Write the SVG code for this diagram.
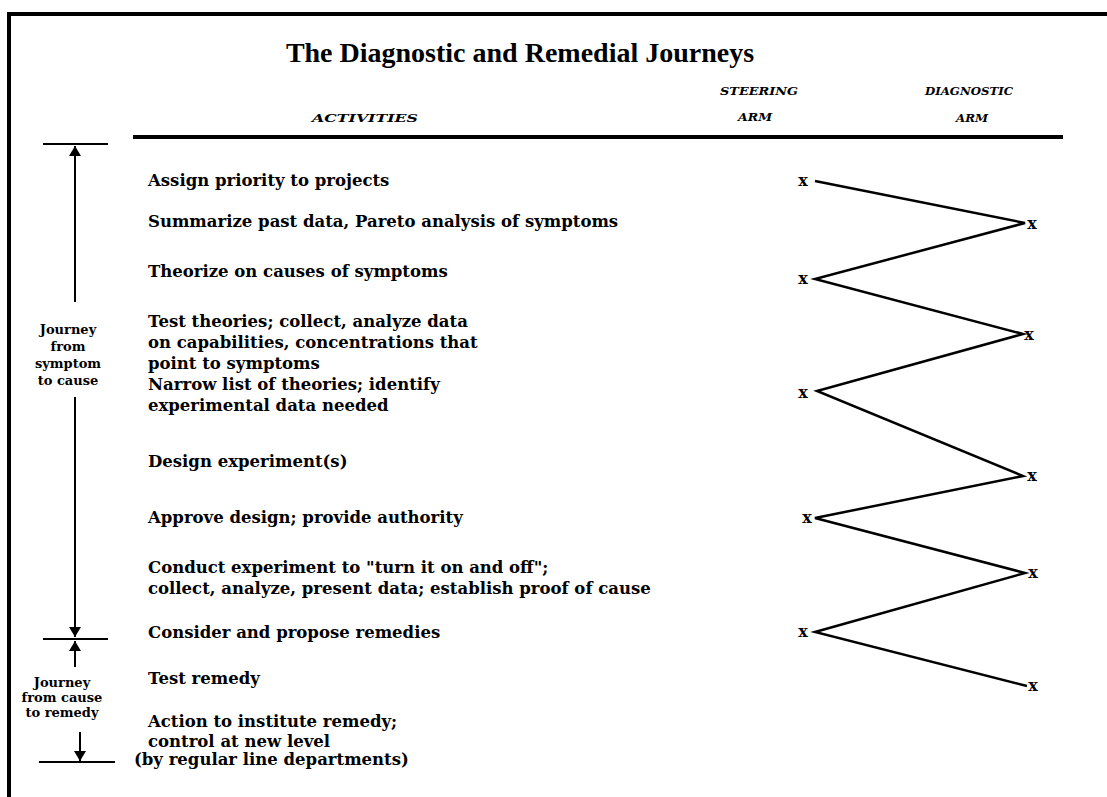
<svg xmlns="http://www.w3.org/2000/svg" width="1107" height="797" viewBox="0 0 1107 797">
<defs>
<style>
.act{font-family:"DejaVu Serif","Liberation Serif",serif;font-weight:bold;font-size:16.5px;fill:#000}
.title{font-family:"Liberation Serif","Times New Roman",serif;font-weight:bold;font-size:28px;fill:#000}
.hdr{font-family:"DejaVu Serif","Liberation Serif",serif;font-weight:bold;font-style:italic;font-size:11px;fill:#000;text-anchor:middle}
.lbl{font-family:"DejaVu Serif","Liberation Serif",serif;font-weight:bold;font-size:13px;fill:#000;text-anchor:middle}
.mk{font-family:"DejaVu Serif","Liberation Serif",serif;font-weight:bold;font-size:16px;fill:#000;text-anchor:middle}
.rule{stroke:#000;fill:none}
</style>
<marker id="ah" viewBox="0 0 10 16" refX="10" refY="8" markerWidth="10" markerHeight="16" markerUnits="userSpaceOnUse" orient="auto">
<path d="M0,2 L10,8 L0,14 Z" fill="#000"/>
</marker>
</defs>
<rect x="0" y="0" width="1107" height="797" fill="#fff"/>
<g id="frame">
<line class="rule" x1="9" y1="14" x2="1107" y2="14" stroke-width="4"/>
<line class="rule" x1="9" y1="12" x2="9" y2="797" stroke-width="4"/>
</g>
<g id="header">
<text class="title" x="520" y="62" text-anchor="middle">The Diagnostic and Remedial Journeys</text>
<text class="hdr" x="365" y="122" textLength="106" lengthAdjust="spacingAndGlyphs">ACTIVITIES</text>
<text class="hdr" x="759" y="95" textLength="78" lengthAdjust="spacingAndGlyphs">STEERING</text>
<text class="hdr" x="755" y="121" textLength="34" lengthAdjust="spacingAndGlyphs">ARM</text>
<text class="hdr" x="969" y="95" textLength="88" lengthAdjust="spacingAndGlyphs">DIAGNOSTIC</text>
<text class="hdr" x="972" y="122" textLength="32" lengthAdjust="spacingAndGlyphs">ARM</text>
<line class="rule" x1="133" y1="137" x2="1063" y2="137" stroke-width="4"/>
</g>
<g id="journey-symptom-cause">
<line class="rule" x1="43" y1="144" x2="108" y2="144" stroke-width="2"/>
<line class="rule" x1="75" y1="302" x2="75" y2="146" stroke-width="2" marker-end="url(#ah)"/>
<text class="lbl" x="68" y="334">Journey</text>
<text class="lbl" x="68" y="351">from</text>
<text class="lbl" x="68" y="368">symptom</text>
<text class="lbl" x="68" y="385">to cause</text>
<line class="rule" x1="75" y1="397" x2="75" y2="637" stroke-width="2" marker-end="url(#ah)"/>
<line class="rule" x1="43" y1="639" x2="108" y2="639" stroke-width="2"/>
</g>
<g id="journey-cause-remedy">
<line class="rule" x1="75" y1="667" x2="75" y2="641" stroke-width="2" marker-end="url(#ah)"/>
<text class="lbl" x="62" y="687">Journey</text>
<text class="lbl" x="62" y="702">from cause</text>
<text class="lbl" x="62" y="717">to remedy</text>
<line class="rule" x1="80" y1="732" x2="80" y2="761" stroke-width="2" marker-end="url(#ah)"/>
<line class="rule" x1="39" y1="762" x2="115" y2="762" stroke-width="2"/>
</g>
<g id="activities">
<text class="act" x="148" y="186">Assign priority to projects</text>
<text class="act" x="148" y="227">Summarize past data, Pareto analysis of symptoms</text>
<text class="act" x="148" y="277">Theorize on causes of symptoms</text>
<text class="act" x="148" y="327">Test theories; collect, analyze data</text>
<text class="act" x="148" y="348">on capabilities, concentrations that</text>
<text class="act" x="148" y="369">point to symptoms</text>
<text class="act" x="148" y="390">Narrow list of theories; identify</text>
<text class="act" x="148" y="411">experimental data needed</text>
<text class="act" x="148" y="467">Design experiment(s)</text>
<text class="act" x="148" y="523">Approve design; provide authority</text>
<text class="act" x="148" y="573">Conduct experiment to "turn it on and off";</text>
<text class="act" x="148" y="594">collect, analyze, present data; establish proof of cause</text>
<text class="act" x="148" y="638">Consider and propose remedies</text>
<text class="act" x="148" y="684">Test remedy</text>
<text class="act" x="148" y="727">Action to institute remedy;</text>
<text class="act" x="148" y="747">control at new level</text>
<text class="act" x="134" y="765">(by regular line departments)</text>
</g>
<g id="connectors">
<polyline class="rule" stroke-width="2.5" stroke-linejoin="miter" points="815,181 1025,223 815,279 1023,334 817,391 1023,476 815,518 1025,573 815,632 1027,686"/>
</g>
<g id="marks">
<text class="mk" x="803" y="186">x</text>
<text class="mk" x="1032" y="229">x</text>
<text class="mk" x="803" y="284">x</text>
<text class="mk" x="1029" y="340">x</text>
<text class="mk" x="803" y="398">x</text>
<text class="mk" x="1032" y="481">x</text>
<text class="mk" x="807" y="523">x</text>
<text class="mk" x="1033" y="578">x</text>
<text class="mk" x="803" y="637">x</text>
<text class="mk" x="1033" y="691">x</text>
</g>
</svg>
